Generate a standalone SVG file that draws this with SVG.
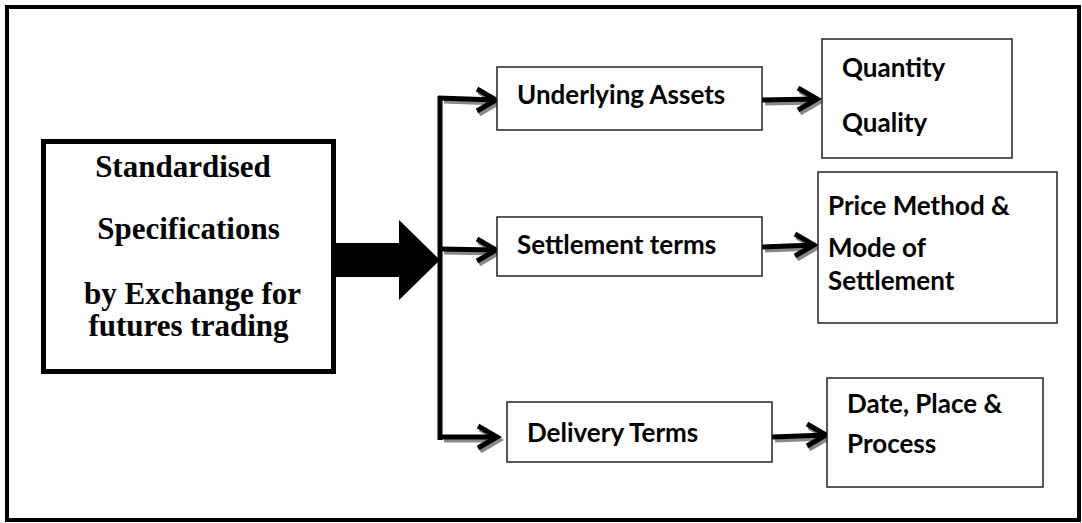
<svg xmlns="http://www.w3.org/2000/svg" width="1082" height="523" viewBox="0 0 1082 523">
  <style>
    .frame { fill: #fff; stroke: #000; stroke-width: 4; }
    .main { fill: #fff; stroke: #000; stroke-width: 5; }
    .box { fill: #fff; stroke: #222; stroke-width: 1.5; }
    .serif { font-family: "Liberation Serif", "Times New Roman", serif; font-weight: bold; font-size: 31px; fill: #000; }
    .sans { font-family: Lato, "Open Sans", sans-serif; font-weight: bold; font-size: 26px; fill: #000; }
    .arrow { fill: none; stroke: #000; stroke-width: 5; stroke-linejoin: miter; }
    .shadow { fill: none; stroke: #888; stroke-width: 5; stroke-linejoin: miter; }
  </style>
  <defs>
    <!-- open chevron head pointing right, tip at origin -->
    <path id="head" d="M -19 -11 L 0 0 L -19 11"/>
  </defs>

  <rect class="frame" x="7" y="7" width="1072" height="513"/>

  <g id="connectors">
    <!-- block arrow from the main box into the trunk -->
    <polygon points="334,243 399,243 399,220 440,260 399,300 399,277 334,277" fill="#000"/>
    <!-- shadows -->
    <g transform="translate(2,3)">
      <path class="shadow" d="M 442 98 L 496 100"/>
      <use href="#head" class="shadow" transform="translate(496,100)"/>
      <path class="shadow" d="M 442 249 L 496 250"/>
      <use href="#head" class="shadow" transform="translate(496,250)"/>
      <path class="shadow" d="M 442 437 L 497 437"/>
      <use href="#head" class="shadow" transform="translate(497,437)"/>
      <path class="shadow" d="M 763 100 L 817 99"/>
      <use href="#head" class="shadow" transform="translate(817,99)"/>
      <path class="shadow" d="M 763 247 L 814 245"/>
      <use href="#head" class="shadow" transform="translate(814,245)"/>
      <path class="shadow" d="M 773 437 L 826 435"/>
      <use href="#head" class="shadow" transform="translate(826,435)"/>
    </g>
    <!-- trunk -->
    <path class="arrow" d="M 440 96 L 440 440"/>
    <!-- branches -->
    <path class="arrow" d="M 438 98 L 496 100"/>
    <use href="#head" class="arrow" transform="translate(496,100)"/>
    <path class="arrow" d="M 440 249 L 496 250"/>
    <use href="#head" class="arrow" transform="translate(496,250)"/>
    <path class="arrow" d="M 438 437 L 497 437"/>
    <use href="#head" class="arrow" transform="translate(497,437)"/>
    <!-- detail arrows -->
    <path class="arrow" d="M 762 100 L 817 99"/>
    <use href="#head" class="arrow" transform="translate(817,99)"/>
    <path class="arrow" d="M 762 247 L 814 245"/>
    <use href="#head" class="arrow" transform="translate(814,245)"/>
    <path class="arrow" d="M 772 437 L 826 435"/>
    <use href="#head" class="arrow" transform="translate(826,435)"/>
  </g>

  <g id="node-main">
    <rect class="main" x="43.5" y="141.5" width="290" height="230"/>
    <text class="serif" x="183" y="177" text-anchor="middle">Standardised</text>
    <text class="serif" x="188.5" y="239" text-anchor="middle">Specifications</text>
    <text class="serif" x="192.5" y="304" text-anchor="middle">by Exchange for</text>
    <text class="serif" x="188.5" y="336" text-anchor="middle">futures trading</text>
  </g>

  <g id="node-underlying">
    <rect class="box" x="497" y="67" width="265" height="63"/>
    <text class="sans" x="517" y="104">Underlying Assets</text>
  </g>

  <g id="node-settlement">
    <rect class="box" x="497" y="217" width="265" height="59"/>
    <text class="sans" x="517" y="254">Settlement terms</text>
  </g>

  <g id="node-delivery">
    <rect class="box" x="507" y="402" width="265" height="60"/>
    <text class="sans" x="527" y="442">Delivery Terms</text>
  </g>

  <g id="node-quantity">
    <rect class="box" x="822" y="39" width="190" height="119"/>
    <text class="sans" x="842" y="77">Quantity</text>
    <text class="sans" x="842" y="132">Quality</text>
  </g>

  <g id="node-price">
    <rect class="box" x="818" y="172" width="239" height="151"/>
    <text class="sans" x="828" y="215">Price Method &amp;</text>
    <text class="sans" x="828" y="257">Mode of</text>
    <text class="sans" x="828" y="290">Settlement</text>
  </g>

  <g id="node-date">
    <rect class="box" x="827" y="378" width="216" height="109"/>
    <text class="sans" x="847" y="413">Date, Place &amp;</text>
    <text class="sans" x="847" y="453">Process</text>
  </g>
</svg>
